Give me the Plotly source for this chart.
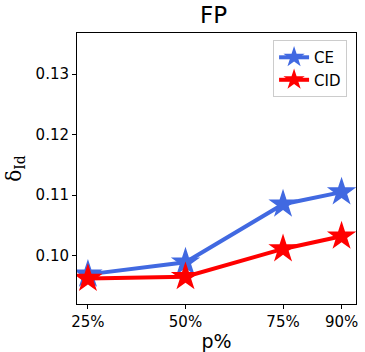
import plotly.graph_objects as go

p_values = [25, 50, 75, 90]
tick_labels = ["25%", "50%", "75%", "90%"]
ce_values = [0.0969, 0.0989, 0.1085, 0.1105]
cid_values = [0.0962, 0.0965, 0.1011, 0.1032]
y_ticks = [0.10, 0.11, 0.12, 0.13]

fig = go.Figure()
fig.add_trace(go.Scatter(x=p_values, y=ce_values, mode="lines+markers", name="CE",
                         line=dict(color="#4169E1", width=4),
                         marker=dict(symbol="star", size=22, color="#4169E1")))
fig.add_trace(go.Scatter(x=p_values, y=cid_values, mode="lines+markers", name="CID",
                         line=dict(color="#FF0000", width=4),
                         marker=dict(symbol="star", size=22, color="#FF0000")))

axis_common = dict(showline=True, linecolor="black", linewidth=1, mirror=True,
                   ticks="outside", ticklen=4, tickcolor="black", showgrid=False,
                   zeroline=False, automargin=False,
                   tickfont=dict(size=15, color="black", family="DejaVu Sans"))

fig.update_layout(
    width=365, height=352,
    margin=dict(l=77, r=9, t=33, b=48),
    paper_bgcolor="white", plot_bgcolor="white",
    font=dict(family="DejaVu Sans", color="black"),
    title=dict(text="FP", x=0.585, xanchor="center", y=0.958, yanchor="middle",
               font=dict(size=23, color="black", family="DejaVu Sans")),
    xaxis=dict(range=[22.2, 93.7], tickvals=p_values, ticktext=tick_labels,
               title=dict(text="p%", font=dict(size=19), standoff=6), **axis_common),
    yaxis=dict(range=[0.0920, 0.1368], tickvals=y_ticks, tickformat=".2f",
               title=dict(text="δ<sub>Id</sub>", font=dict(size=20, family="DejaVu Serif"), standoff=8),
               **axis_common),
    legend=dict(x=0.968, y=0.974, xanchor="right", yanchor="top",
                bordercolor="#cccccc", borderwidth=1, bgcolor="white",
                tracegroupgap=0, font=dict(size=15, color="black")),
)

fig.write_html("out.html", config={"displayModeBar": False},
               post_script="document.body.style.margin='0';document.body.style.overflow='hidden';")
